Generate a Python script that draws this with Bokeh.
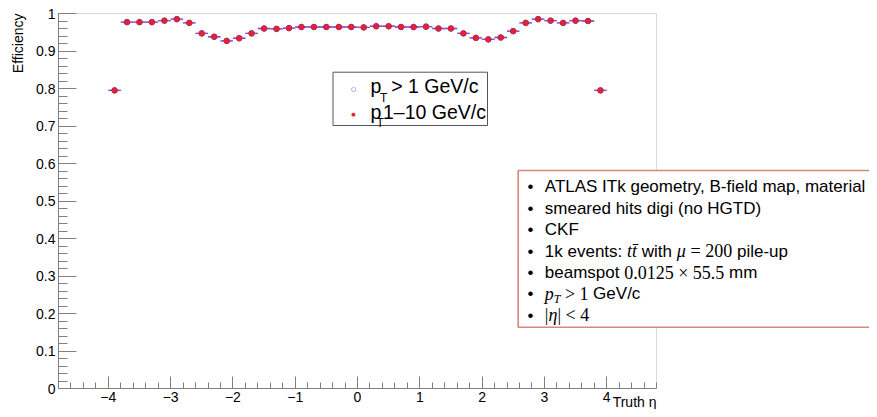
import numpy as np
from bokeh.plotting import figure
from bokeh.models import ColumnDataSource, Range1d, FixedTicker, Label, BoxAnnotation
from bokeh.embed import file_html
from bokeh.resources import INLINE

# ---------------- data ----------------
eta = [-3.9, -3.7, -3.5, -3.3, -3.1, -2.9, -2.7, -2.5, -2.3, -2.1,
       -1.9, -1.7, -1.5, -1.3, -1.1, -0.9, -0.7, -0.5, -0.3, -0.1,
       0.1, 0.3, 0.5, 0.7, 0.9, 1.1, 1.3, 1.5, 1.7, 1.9,
       2.1, 2.3, 2.5, 2.7, 2.9, 3.1, 3.3, 3.5, 3.7, 3.9]
eff_pt1 = [0.795, 0.977, 0.977, 0.977, 0.981, 0.985, 0.975, 0.947, 0.938, 0.927,
           0.934, 0.947, 0.960, 0.959, 0.961, 0.964, 0.964, 0.964, 0.964, 0.964,
           0.963, 0.966, 0.966, 0.964, 0.964, 0.965, 0.960, 0.960, 0.947, 0.935,
           0.931, 0.936, 0.953, 0.975, 0.985, 0.981, 0.975, 0.981, 0.980, 0.795]
eff_pt1_10 = [0.795, 0.977, 0.977, 0.977, 0.981, 0.985, 0.975, 0.947, 0.938, 0.927,
              0.934, 0.947, 0.960, 0.959, 0.961, 0.964, 0.964, 0.964, 0.964, 0.964,
              0.963, 0.966, 0.966, 0.964, 0.964, 0.965, 0.960, 0.960, 0.947, 0.935,
              0.931, 0.936, 0.953, 0.975, 0.985, 0.981, 0.975, 0.981, 0.980, 0.795]
bin_width = 0.2

x_min, x_max = -4.8, 4.8
y_min, y_max = 0.0, 1.0
x_ticks = [-4, -3, -2, -1, 0, 1, 2, 3, 4]
x_tick_labels = ["\u22124", "\u22123", "\u22122", "\u22121", "0", "1", "2", "3", "4"]
y_ticks = [0.0, 0.1, 0.2, 0.3, 0.4, 0.5, 0.6, 0.7, 0.8, 0.9, 1.0]
y_tick_labels = ["0", "0.1", "0.2", "0.3", "0.4", "0.5", "0.6", "0.7", "0.8", "0.9", "1"]

x_title = "Truth \u03b7"
y_title = "Efficiency"

legend_main = ["> 1 GeV/c", "1\u201310 GeV/c"]

box_lines = [
    [("ATLAS ITk geometry, B-field map, material", "sans", "normal")],
    [("smeared hits digi (no HGTD)", "sans", "normal")],
    [("CKF", "sans", "normal")],
    [("1k events: ", "sans", "normal"), ("tt\u0304", "serif", "italic"), (" with ", "sans", "normal"),
     ("\u03bc", "serif", "italic"), (" = 200", "serif", "normal"), (" pile-up", "sans", "normal")],
    [("beamspot ", "sans", "normal"), ("0.0125 \u00d7 55.5", "serif", "normal"), (" mm", "sans", "normal")],
    [("p", "serif", "italic"), ("T", "sub", "italic"), (" > 1 ", "serif", "normal"), ("GeV/c", "sans", "normal")],
    [("|", "serif", "normal"), ("\u03b7", "serif", "italic"), ("| < 4", "serif", "normal")],
]

# ---------------- layout constants (pixels) ----------------
W, H = 869, 409
F_LEFT, F_RIGHT = 58, 656      # pixel columns of x_min / x_max
F_TOP, F_BOT = 13, 388         # pixel rows of y_max / y_min

SANS = "Liberation Sans"
SERIF = "Liberation Serif"
AX = "#808080"

HELV = {' ': 278, '(': 333, ')': 333, ',': 278, '-': 333, '.': 278, '/': 278, ':': 278,
        '<': 584, '=': 584, '>': 584, 'A': 667, 'B': 667, 'C': 722, 'D': 722, 'E': 667,
        'F': 611, 'G': 778, 'H': 722, 'I': 278, 'K': 667, 'L': 556, 'M': 833, 'N': 722,
        'S': 667, 'T': 611, 'V': 667, 'a': 556, 'b': 556, 'c': 500, 'd': 556, 'e': 556,
        'f': 278, 'g': 556, 'h': 556, 'i': 222, 'k': 500, 'l': 222, 'm': 833, 'n': 556,
        'o': 556, 'p': 556, 'r': 333, 's': 500, 't': 278, 'u': 556, 'v': 500, 'w': 722,
        'y': 500}
TIMES = {' ': 250, '.': 250, '\u00d7': 564, '=': 564, '<': 564, '>': 564, '|': 200,
         '\u03bc': 520, '\u03b7': 500, 't': 278, 'p': 500, 'T': 556, '\u0304': 0}


def text_width(s, kind, size):
    tot = 0
    for ch in s:
        tot += HELV.get(ch, 556) if kind == "sans" else TIMES.get(ch, 500)
    return tot * size / 1000.0


sx = (F_RIGHT - F_LEFT) / (x_max - x_min)
sy = (F_BOT - F_TOP) / (y_max - y_min)
xr = Range1d(x_min - F_LEFT / sx, x_max + (W - F_RIGHT) / sx)
yr = Range1d(y_min - (H - F_BOT) / sy, y_max + F_TOP / sy)

p = figure(width=W, height=H, x_range=xr, y_range=yr, output_backend="svg",
           toolbar_location=None, min_border=0)
p.grid.visible = False
p.outline_line_color = None
p.background_fill_color = "white"
p.border_fill_color = "white"

xa, ya = p.xaxis[0], p.yaxis[0]
xa.fixed_location = y_min
ya.fixed_location = x_min
xa.bounds = (x_min, x_max)
ya.bounds = (y_min, y_max)
for ax in (xa, ya):
    ax.axis_line_color = AX
    ax.major_tick_line_color = AX
    ax.minor_tick_line_color = AX
    ax.major_tick_out = 0
    ax.minor_tick_out = 0
    ax.major_label_text_font = SANS
    ax.major_label_text_font_size = "14px"
    ax.major_label_text_color = "#000000"

x_minor = [round(x_min + 0.2 * i, 1) for i in range(49)]
y_minor = [round(0.02 * i, 2) for i in range(51)]
xa.ticker = FixedTicker(ticks=x_ticks, minor_ticks=x_minor)
ya.ticker = FixedTicker(ticks=y_ticks, minor_ticks=y_minor)
xa.major_label_overrides = {t: l for t, l in zip(x_ticks, x_tick_labels)}
ya.major_label_overrides = {t: l for t, l in zip(y_ticks, y_tick_labels)}
xa.major_tick_in = 12
xa.minor_tick_in = 6
ya.major_tick_in = 18
ya.minor_tick_in = 9
xa.major_label_standoff = 3
ya.major_label_standoff = 3

# frame border (top and right sides visible)
p.add_layout(BoxAnnotation(left=x_min, right=x_max, bottom=y_min, top=y_max,
                           fill_alpha=0, line_color=AX, line_width=1, level="underlay"))

# ---------------- data marks ----------------
eta_a = np.array(eta)
src = ColumnDataSource(dict(x=eta_a, lo=eta_a - bin_width / 2, hi=eta_a + bin_width / 2,
                            e1=eff_pt1, e2=eff_pt1_10))
p.segment(x0="lo", y0="e1", x1="hi", y1="e1", source=src, line_color="#3a3aff", line_width=1.3)
p.segment(x0="lo", y0="e2", x1="hi", y1="e2", source=src, line_color="#ff5a5a",
          line_width=1.3, line_alpha=0.5)
p.scatter(x="x", y="e1", source=src, marker="circle", size=5.5, fill_color=None,
          line_color="#2020ff", line_width=1)
p.scatter(x="x", y="e2", source=src, marker="circle", size=5.5, fill_color="#e5232c",
          line_color="#e5232c", line_width=0.5)


def lab(x, y, text, **kw):
    opts = dict(x_units="screen", y_units="screen", text_font=SANS, text_color="#000000",
                text_baseline="middle")
    opts.update(kw)
    p.add_layout(Label(x=x, y=H - y, text=text, **opts))


# ---------------- axis titles ----------------
lab(17, F_TOP, y_title, angle=np.pi / 2, text_align="right", text_font_size="14px")
lab(F_RIGHT, 401, x_title, text_align="right", text_font_size="14px")

# ---------------- legend ----------------
p.add_layout(BoxAnnotation(left=332.5, right=487, top=H - 71.7, bottom=H - 125,
                           left_units="screen", right_units="screen", top_units="screen",
                           bottom_units="screen", fill_color="white", fill_alpha=1.0,
                           line_color="#555555", line_width=1, line_alpha=1.0))
lab(353, 87.7, "\u25cb", text_align="center", text_font="DejaVu Sans",
    text_font_size="6px", text_color="#2020ff")
lab(353, 113.7, "\u25cf", text_align="center", text_font="DejaVu Sans",
    text_font_size="5px", text_color="#e5232c")
LEG_FS = 19.5
leg_center = [85, 111]
sub_pos = [(379.5, 97), (376, 122)]
main_x = [390.7, 382.5]
for i, main in enumerate(legend_main):
    lab(370, leg_center[i], "p", text_font_size=f"{LEG_FS}px")
    lab(sub_pos[i][0], sub_pos[i][1], "T", text_font_size="12px")
    lab(main_x[i], leg_center[i], main, text_font_size=f"{LEG_FS}px")

# ---------------- info box ----------------
p.add_layout(BoxAnnotation(left=517.7, right=W + 20, top=H - 170, bottom=H - 326.7,
                           left_units="screen", right_units="screen", top_units="screen",
                           bottom_units="screen", fill_color="white", fill_alpha=1.0,
                           line_color="#d9877c", line_width=1.6, line_alpha=1.0))
BOX_FS = 17
for i, segs in enumerate(box_lines):
    cy = 186.4 + 21.4 * i
    lab(530, cy, "\u2022", text_align="center", text_font_size=f"{BOX_FS}px")
    cx = 544.3
    for txt, kind, style in segs:
        if kind == "sans":
            fam, fs, dy, wk = SANS, BOX_FS, 0, "sans"
        elif kind == "serif":
            fam, fs, dy, wk = SERIF, 18, 0, "serif"
        else:
            fam, fs, dy, wk = SERIF, 12, 5, "serif"
        lead = len(txt) - len(txt.lstrip(" "))
        lab(cx + text_width(" " * lead, wk, fs), cy + dy, txt.strip(" "), text_font=fam,
            text_font_style=style, text_font_size=f"{fs}px")
        cx += text_width(txt, wk, fs)

open("out.html", "w").write(file_html(p, INLINE))
